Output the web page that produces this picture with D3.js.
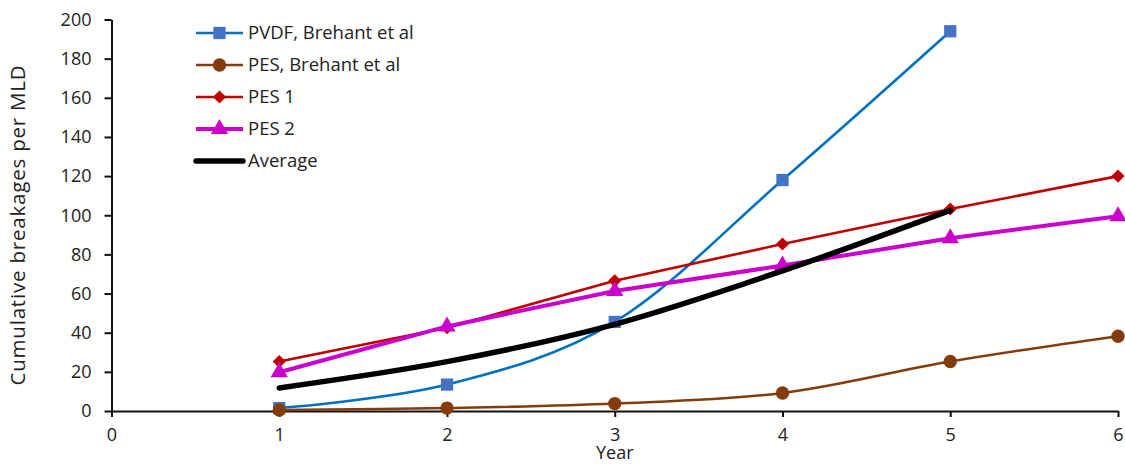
<!DOCTYPE html>
<html>
<head>
<meta charset="utf-8">
<script src="https://cdn.jsdelivr.net/npm/d3@7"></script>
<style>
  html, body { margin: 0; padding: 0; background: #fff; }
  svg { display: block; }
  text { font-family: "Open Sans", Lato, sans-serif; fill: #222; }
</style>
</head>
<body>
<svg id="chart" width="1125" height="464"></svg>
<script>
// Years of operation
const years = [1, 2, 3, 4, 5, 6];

// Cumulative breakages per MLD, one array per membrane series
const pvdfBrehant = [1.5, 13.5, 45.5, 118, 194];
const pesBrehant  = [0.5, 1.5, 3.8, 9.2, 25.3, 38.2];
const pes1        = [25.3, 42.5, 66.5, 85.3, 103.2, 120];
const pes2        = [19.8, 43.2, 61.3, 74.3, 88.3, 99.5];
const average     = [11.8, 25.2, 44.3, 71.6, 102.5];

const xTicks = [0, 1, 2, 3, 4, 5, 6];
const yTicks = [0, 20, 40, 60, 80, 100, 120, 140, 160, 180, 200];

const series = [
  { name: "PVDF, Brehant et al", values: pvdfBrehant, line: "#0070C0", mark: "#4472C4", width: 2.6, marker: "square", smooth: true },
  { name: "PES, Brehant et al",  values: pesBrehant,  line: "#843C0C", mark: "#843C0C", width: 2.6, marker: "circle", smooth: true },
  { name: "PES 1",               values: pes1,        line: "#C00000", mark: "#C00000", width: 2.6, marker: "diamond", smooth: false },
  { name: "PES 2",               values: pes2,        line: "#CC00CC", mark: "#CC00CC", width: 4,   marker: "triangle", smooth: false },
  { name: "Average",             values: average,     line: "#000000", mark: null,      width: 5.5, marker: null, smooth: true }
];

const svg = d3.select("#chart");

const x = d3.scaleLinear().domain([0, 6]).range([111.5, 1118]);
const y = d3.scaleLinear().domain([0, 200]).range([411, 19.5]);

// Axes
const xAxis = d3.axisBottom(x).tickValues(xTicks).tickFormat(d3.format("d"))
  .tickSize(6).tickSizeOuter(0).tickPadding(11);
const yAxis = d3.axisLeft(y).tickValues(yTicks).tickFormat(d3.format("d"))
  .tickSize(7).tickSizeOuter(0).tickPadding(13);

const gx = svg.append("g").attr("transform", `translate(0,${y(0)})`).call(xAxis);
const gy = svg.append("g").attr("transform", `translate(${x(0)},0)`).call(yAxis);

[gx, gy].forEach(g => {
  g.select(".domain").attr("stroke", "#111").attr("stroke-width", 2);
  g.selectAll(".tick line").attr("stroke", "#111").attr("stroke-width", 2);
  g.selectAll(".tick text")
    .attr("font-family", "'Open Sans', Lato, sans-serif")
    .attr("font-size", 18)
    .attr("fill", "#222");
});

// Axis titles
svg.append("text")
  .attr("x", x(3))
  .attr("y", 459)
  .attr("text-anchor", "middle")
  .attr("font-size", 18)
  .text("Year");

svg.append("text")
  .attr("transform", `translate(25,225) rotate(-90)`)
  .attr("text-anchor", "middle")
  .attr("font-size", 20.5)
  .attr("letter-spacing", 0.8)
  .text("Cumulative breakages per MLD");

// Marker shapes
const symbolFor = {
  square: d3.symbol().type(d3.symbolSquare).size(150),
  circle: d3.symbol().type(d3.symbolCircle).size(140),
  diamond: d3.symbol().type(d3.symbolDiamond2).size(110),
  triangle: d3.symbol().type(d3.symbolTriangle).size(130)
};

// Series lines and markers
const plot = svg.append("g");
series.forEach(s => {
  const pts = s.values.map((v, i) => [years[i], v]);
  const line = d3.line()
    .x(d => x(d[0]))
    .y(d => y(d[1]))
    .curve(s.smooth ? d3.curveCatmullRom.alpha(0) : d3.curveLinear);
  plot.append("path")
    .datum(pts)
    .attr("fill", "none")
    .attr("stroke", s.line)
    .attr("stroke-width", s.width)
    .attr("stroke-linejoin", "round")
    .attr("stroke-linecap", "round")
    .attr("d", line);
  if (s.marker) {
    plot.selectAll(null)
      .data(pts)
      .enter()
      .append("path")
      .attr("transform", d => `translate(${x(d[0])},${y(d[1])})`)
      .attr("d", symbolFor[s.marker]())
      .attr("fill", s.mark);
  }
});

// Legend
const legend = svg.append("g").attr("transform", "translate(196,33)");
series.forEach((s, i) => {
  const g = legend.append("g").attr("transform", `translate(0,${i * 32})`);
  g.append("line")
    .attr("x1", 0).attr("x2", 47)
    .attr("y1", 0).attr("y2", 0)
    .attr("stroke", s.line)
    .attr("stroke-width", s.width)
    .attr("stroke-linecap", s.marker ? "butt" : "round");
  if (s.marker) {
    g.append("path")
      .attr("transform", "translate(23.5,0)")
      .attr("d", symbolFor[s.marker]())
      .attr("fill", s.mark);
  }
  g.append("text")
    .attr("x", 52)
    .attr("y", 0)
    .attr("dy", "0.35em")
    .attr("font-size", 18.5)
    .text(s.name);
});
</script>
</body>
</html>
